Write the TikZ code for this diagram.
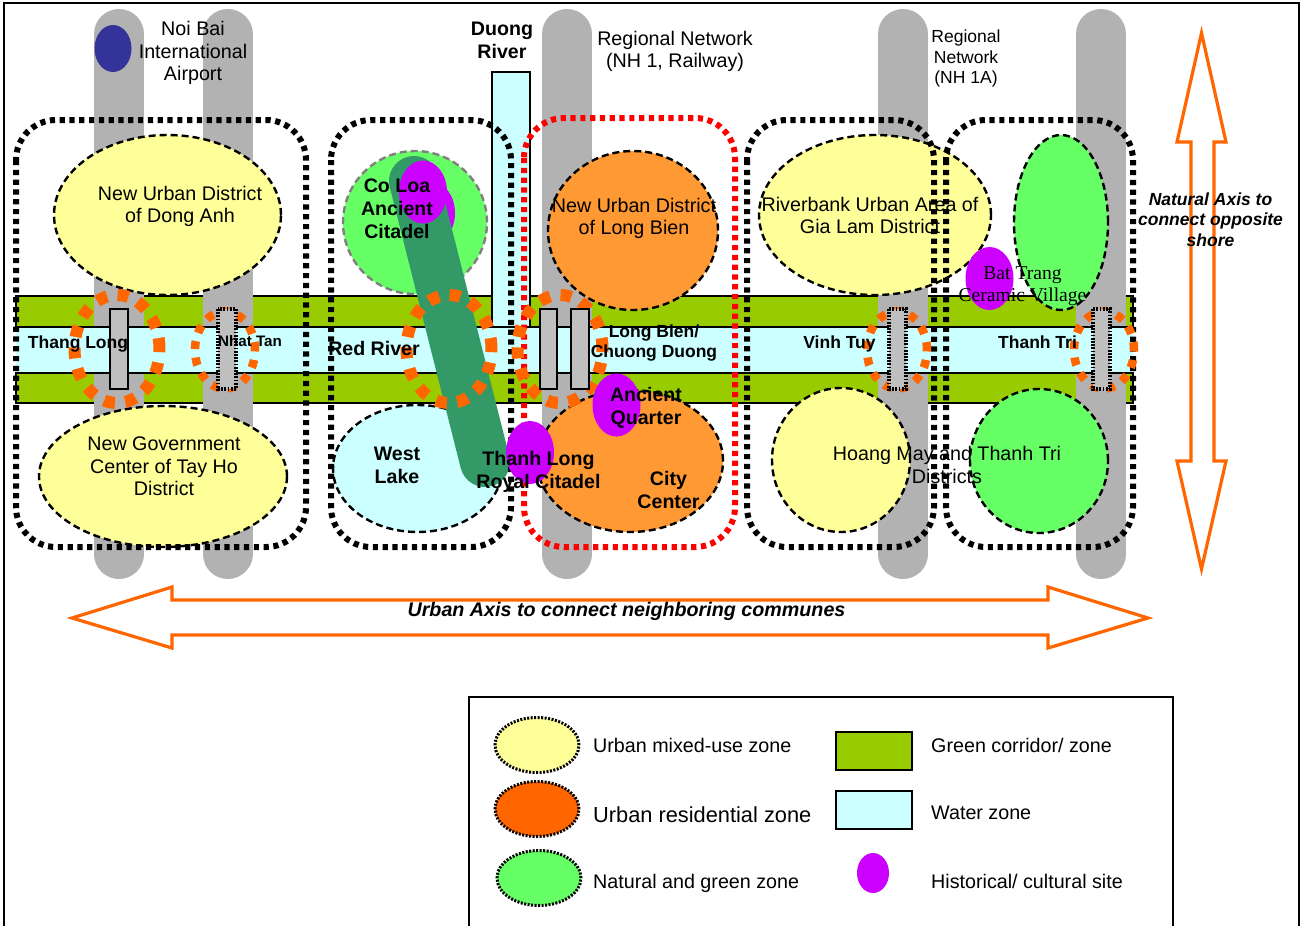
\documentclass[tikz,border=0pt]{standalone}
\usepackage{fontspec}
\usepackage{xcolor}
\usepackage{tikz}
\usetikzlibrary{shapes.geometric}
\setmainfont{Liberation Sans}
\newfontfamily\timesface{Liberation Serif}

\definecolor{roadgrey}{HTML}{B2B2B2}
\definecolor{bandgreen}{HTML}{99CC00}
\definecolor{watercyan}{HTML}{CCFFFF}
\definecolor{urbanyellow}{HTML}{FFFF99}
\definecolor{cityorange}{HTML}{FF9933}
\definecolor{ringorange}{HTML}{FF6600}
\definecolor{natgreen}{HTML}{66FF66}
\definecolor{sitepurple}{HTML}{CC00FF}
\definecolor{corridor}{HTML}{339966}
\definecolor{airportblue}{HTML}{333399}

\begin{document}
\begin{tikzpicture}[
    x=1pt, y=-1pt,
    road/.style={draw=roadgrey, line width=50pt, line cap=round},
    zone/.style={ellipse, draw=black, dash pattern=on 7pt off 4pt, line width=2.4pt, inner sep=0pt},
    site/.style={ellipse, fill=sitepurple, inner sep=0pt, minimum width=48pt, minimum height=63pt},
    district/.style={draw=black, line width=6pt, dash pattern=on 5.2pt off 4.6pt, rounded corners=40pt},
    ringbig/.style={ellipse, draw=ringorange, line width=12pt, dash pattern=on 11pt off 10.5pt, inner sep=0pt, minimum width=85pt, minimum height=108pt},
    ringsmall/.style={ellipse, draw=ringorange, line width=8.5pt, dash pattern=on 8pt off 8.5pt, inner sep=0pt, minimum width=60pt, minimum height=77pt},
    bridge/.style={draw=black, fill=black!25, line width=2.4pt},
    bridgedot/.style={draw=black, fill=black!25, line width=4.5pt, dash pattern=on 1.8pt off 1.4pt},
    axis/.style={draw=ringorange, fill=white, line width=3.2pt},
    legdot/.style={ellipse, draw=black, line width=3pt, dash pattern=on 2pt off 1.5pt, inner sep=0pt, minimum width=84pt, minimum height=55pt},
    txt/.style={align=center, inner sep=0pt, font=\fontsize{19.7}{22.6}\selectfont},
    txtb/.style={align=center, inner sep=0pt, font=\fontsize{19.6}{23}\selectfont\bfseries},
    bridgename/.style={align=center, inner sep=0pt, font=\fontsize{17.5}{20.5}\selectfont\bfseries},
    axisname/.style={align=center, inner sep=0pt, font=\fontsize{17.5}{20.5}\selectfont\bfseries\itshape},
    legtxt/.style={anchor=west, inner sep=0pt, font=\fontsize{19.7}{22}\selectfont}
]
    \useasboundingbox (0,0) rectangle (1301,926);

    % Outer frame
    \draw[line width=1.6pt] (4,926) |- (1299,3) -- (1299,926);

    % Green bands
    \fill[bandgreen, draw=black, line width=1.6pt] (16,296) rectangle (1133,327);
    \fill[bandgreen, draw=black, line width=1.6pt] (16,373) rectangle (1133,403);

    % Regional roads
    \draw[road] (119,34) -- (119,554);
    \draw[road] (227.5,34) -- (227.5,554);
    \draw[road] (567,34) -- (567,554);
    \draw[road] (903,34) -- (903,554);
    \draw[road] (1101,34) -- (1101,554);

    % Rivers
    \fill[watercyan, draw=black, line width=1.6pt] (492,72) rectangle (530,327);
    \fill[watercyan] (16,327) rectangle (1133,373);
    \draw[line width=2.8pt] (16,327) -- (1133,327);
    \draw[line width=2pt] (16,373) -- (1133,373);

    % Zones
    \node[zone, fill=urbanyellow, minimum width=227pt, minimum height=160pt] (dongAnh) at (167.5,215) {};
    \node[zone, fill=urbanyellow, minimum width=248pt, minimum height=141pt] (tayHo) at (163,476.5) {};
    \node[zone, fill=watercyan, minimum width=169pt, minimum height=127pt] (westLake) at (417.5,468.5) {};
    \node[zone, fill=natgreen, draw=black!50, minimum width=144pt, minimum height=143pt] (coLoa) at (415,222.5) {};
    \node[zone, fill=cityorange, minimum width=170pt, minimum height=159pt] (longBien) at (633,230.5) {};
    \node[zone, fill=cityorange, minimum width=186pt, minimum height=142pt] (cityCenter) at (630,461) {};
    \node[zone, fill=urbanyellow, minimum width=232pt, minimum height=160pt] (riverbank) at (875,215) {};
    \node[zone, fill=natgreen, minimum width=94pt, minimum height=175pt] (eastGreen) at (1061,222.5) {};
    \node[zone, fill=urbanyellow, minimum width=138pt, minimum height=144pt] (hoangMai) at (841,460) {};
    \node[zone, fill=natgreen, minimum width=138pt, minimum height=144pt] (thanhTri) at (1039,461) {};

    % Citadel axis
    \node[site] (coLoaBack) at (431,213) {};
    \draw[road, draw=corridor] (414,181) -- (485,462);
    \node[site] (coLoaSite) at (423,192) {};

    % District outlines
    \draw[district] (16,120) rectangle (306,547);
    \draw[district] (331,120) rectangle (511,547);
    \draw[district, draw=red] (524,118) rectangle (735,547);
    \draw[district] (747,120) rectangle (934,547);
    \draw[district] (946,120) rectangle (1133,547);

    % Crossing rings
    \node[ringbig] (ringThangLong) at (117,349) {};
    \node[ringsmall] (ringNhatTan) at (225,350) {};
    \node[ringbig] (ringRedRiver) at (449,349) {};
    \node[ringbig] (ringLongBien) at (560,349) {};
    \node[ringsmall] (ringVinhTuy) at (897,350) {};
    \node[ringsmall] (ringThanhTri) at (1104,350) {};

    % Bridges
    \draw[bridge] (110,309) rectangle (128,389);
    \draw[bridgedot] (218,309) rectangle (236,389);
    \draw[bridge] (540,309) rectangle (557,389);
    \draw[bridge] (571,309) rectangle (589,389);
    \draw[bridgedot] (889,309) rectangle (906,389);
    \draw[bridgedot] (1093,309) rectangle (1110,389);

    % Historical sites
    \node[site] (thanhLongSite) at (530,452.5) {};
    \node[site] (quarterSite) at (616.5,405) {};
    \node[site] (batTrangSite) at (989.5,278.5) {};
    \node[ellipse, fill=airportblue, inner sep=0pt, minimum width=37pt, minimum height=47pt] (airport) at (113,48.5) {};

    % Axes
    \draw[axis] (1201.5,33) -- (1226,142) -- (1214,142) -- (1214,461) -- (1226,461) -- (1201.5,569) -- (1177,461) -- (1191,461) -- (1191,142) -- (1177,142) -- cycle;
    \draw[axis] (72,618) -- (172,587) -- (172,600) -- (1048,600) -- (1048,587) -- (1148,618) -- (1048,648) -- (1048,635) -- (172,635) -- (172,648) -- cycle;

    % Names
    \node[txt] (airportName) at (193,53) {Noi Bai\\International\\Airport};
    \node[txtb] (duongName) at (502,40) {Duong\\River};
    \node[txt] (networkName) at (675,51.5) {Regional Network\\(NH 1, Railway)};
    \node[txt, font=\fontsize{17.5}{20.5}\selectfont] (network1AName) at (966,58.5) {Regional\\Network\\(NH 1A)};
    \node[axisname] (naturalName) at (1210.5,219.5) {Natural Axis to\\connect opposite\\shore};
    \node[txt] (dongAnhName) at (180,206.5) {New Urban District\\of Dong Anh};
    \node[txtb] (coLoaName) at (397,209) {Co Loa\\Ancient\\Citadel};
    \node[txt] (longBienName) at (634,218.5) {New Urban District\\of Long Bien};
    \node[txt] (riverbankName) at (870,215.5) {Riverbank Urban Area of\\Gia Lam District};
    \node[txt, font=\timesface\fontsize{19.6}{22.6}\selectfont] (batTrangName) at (1022.5,286) {Bat Trang\\Ceramic Village};
    \node[bridgename] (thangLongName) at (78,344) {Thang Long};
    \node[bridgename, font=\fontsize{15.2}{18}\selectfont\bfseries] (nhatTanName) at (250,341) {Nhat Tan};
    \node[txtb] (redRiverName) at (374,348) {Red River};
    \node[bridgename] (longBienBridge) at (654,343) {Long Bien/\\Chuong Duong};
    \node[bridgename] (vinhTuyName) at (839.5,344) {Vinh Tuy};
    \node[bridgename] (thanhTriBridge) at (1037.5,342) {Thanh Tri};
    \node[txt] (tayHoName) at (164,466.5) {New Government\\Center of Tay Ho\\District};
    \node[txtb] (westLakeName) at (397,465) {West\\Lake};
    \node[txtb] (citadelName) at (538.5,471.5) {Thanh Long\\Royal Citadel};
    \node[txtb] (quarterName) at (646,407.5) {Ancient\\Quarter};
    \node[txtb] (cityName) at (668.5,489.5) {City\\Center};
    \node[txt] (hoangMaiName) at (947,465) {Hoang May and Thanh Tri\\Districts};
    \node[axisname, font=\fontsize{19.7}{22}\selectfont\bfseries\itshape] (urbanName) at (626.5,611) {Urban Axis to connect neighboring communes};

    % Legend
    \draw[line width=1.6pt] (469,926) |- (1173,697) -- (1173,926);
    \node[legdot, fill=urbanyellow] (legUrban) at (537,745) {};
    \node[legdot, fill=ringorange] (legResidential) at (537,809) {};
    \node[legdot, fill=natgreen] (legNatural) at (539,878) {};
    \draw[fill=bandgreen, line width=1.8pt] (836,732) rectangle (912,770);
    \draw[fill=watercyan, line width=1.8pt] (836,791) rectangle (912,829);
    \node[ellipse, fill=sitepurple, inner sep=0pt, minimum width=32pt, minimum height=40pt] (legSite) at (873,873) {};
    \node[legtxt] (legUrbanName) at (593,745) {Urban mixed-use zone};
    \node[legtxt, font=\fontsize{21.8}{24}\selectfont] (legResidentialName) at (593,815) {Urban residential zone};
    \node[legtxt] (legNaturalName) at (593,883) {Natural and green zone};
    \node[legtxt] (legCorridorName) at (931,745) {Green corridor/ zone};
    \node[legtxt] (legWaterName) at (931,813) {Water zone};
    \node[legtxt] (legSiteName) at (931,881) {Historical/ cultural site};
\end{tikzpicture}
\end{document}
